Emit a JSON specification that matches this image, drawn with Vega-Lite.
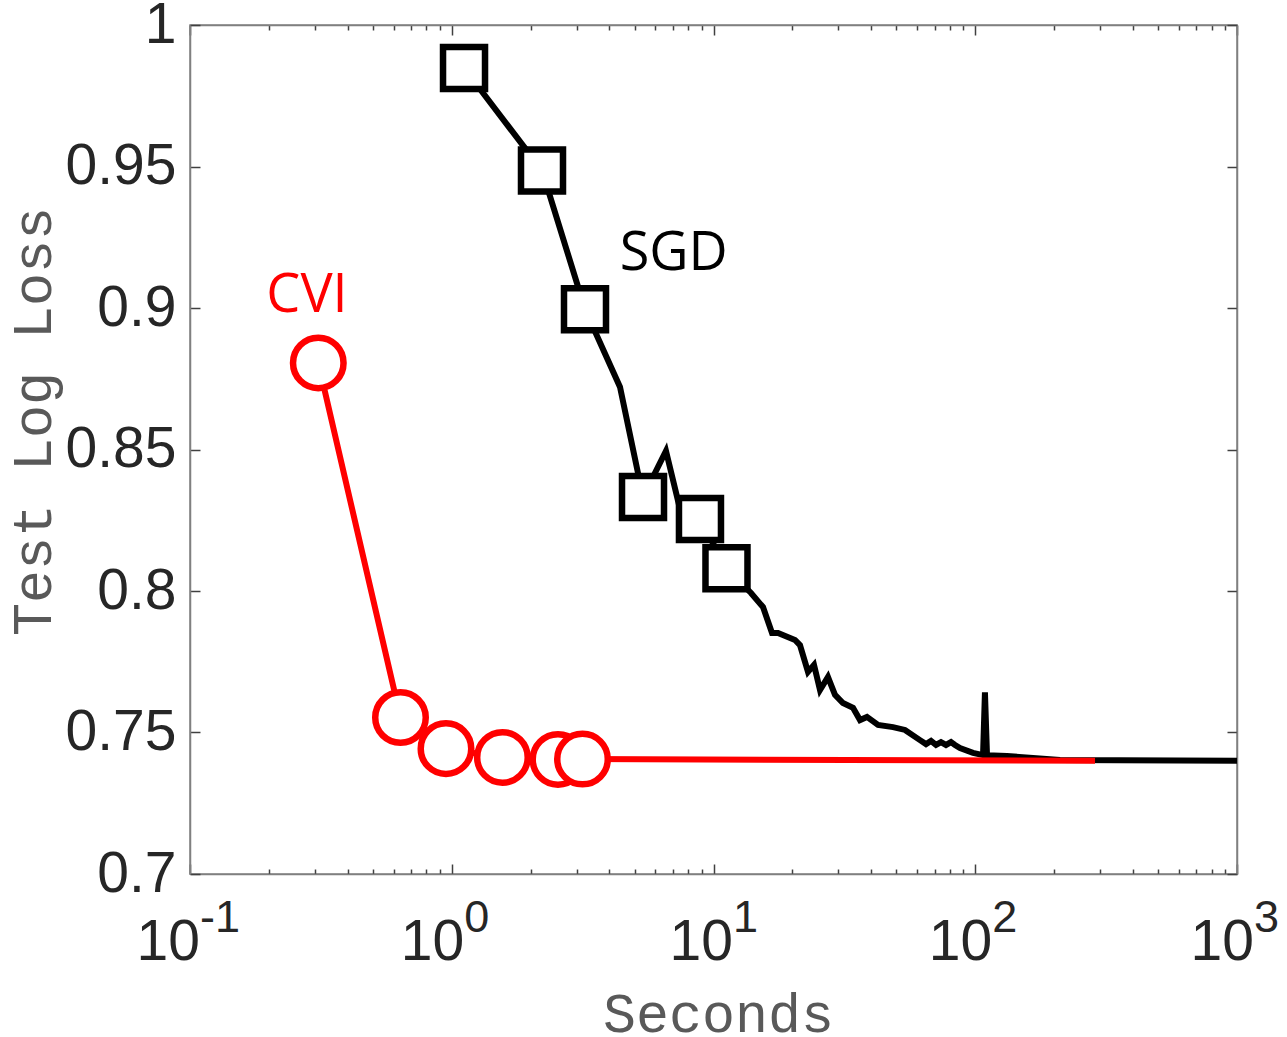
{
  "$schema": "https://vega.github.io/schema/vega-lite/v6.json",
  "width": 1047,
  "height": 849,
  "autosize": {"type": "none"},
  "padding": {"left": 190, "top": 25, "right": 50, "bottom": 163},
  "background": "white",
  "config": {"view": {"stroke": "#808080", "strokeWidth": 1.5}, "axis": {"grid": false}},
  "datasets": {
    "sgd": [
      {"t": 1.114, "loss": 0.9848}, {"t": 2.212, "loss": 0.9486}, {"t": 3.229, "loss": 0.8996},
      {"t": 4.393, "loss": 0.8721}, {"t": 5.379, "loss": 0.8332}, {"t": 6.583, "loss": 0.8495},
      {"t": 7.383, "loss": 0.8304}, {"t": 8.878, "loss": 0.8254}, {"t": 11.21, "loss": 0.808},
      {"t": 13.91, "loss": 0.7993}, {"t": 15.46, "loss": 0.7943}, {"t": 16.73, "loss": 0.7852},
      {"t": 17.64, "loss": 0.7852}, {"t": 20.48, "loss": 0.7827}, {"t": 21.4, "loss": 0.7809},
      {"t": 22.96, "loss": 0.7714}, {"t": 24.21, "loss": 0.7739}, {"t": 25.52, "loss": 0.765},
      {"t": 27.37, "loss": 0.7696}, {"t": 29.12, "loss": 0.7633}, {"t": 31.23, "loss": 0.7604},
      {"t": 34.12, "loss": 0.7587}, {"t": 36.28, "loss": 0.7544}, {"t": 38.58, "loss": 0.7555},
      {"t": 42.52, "loss": 0.7527}, {"t": 48.51, "loss": 0.7519}, {"t": 53.9, "loss": 0.7509},
      {"t": 61.5, "loss": 0.7473}, {"t": 64.85, "loss": 0.7459}, {"t": 67.76, "loss": 0.747},
      {"t": 70.8, "loss": 0.7456}, {"t": 73.98, "loss": 0.7466}, {"t": 77.31, "loss": 0.7456},
      {"t": 80.8, "loss": 0.7466}, {"t": 83.68, "loss": 0.7456}, {"t": 87.44, "loss": 0.7445},
      {"t": 98.04, "loss": 0.7428}, {"t": 107.1, "loss": 0.742}, {"t": 108.9, "loss": 0.7642},
      {"t": 110.9, "loss": 0.742}, {"t": 132.2, "loss": 0.7417}, {"t": 166.2, "loss": 0.741},
      {"t": 210.8, "loss": 0.7403}, {"t": 1000, "loss": 0.74}
    ],
    "sgdm": [
      {"t": 1.114, "loss": 0.9848}, {"t": 2.212, "loss": 0.9486}, {"t": 3.229, "loss": 0.8996},
      {"t": 5.379, "loss": 0.8332}, {"t": 8.878, "loss": 0.8254}, {"t": 11.21, "loss": 0.808}
    ],
    "cvi": [
      {"t": 0.3091, "loss": 0.8806}, {"t": 0.637, "loss": 0.7553}, {"t": 0.9506, "loss": 0.7443},
      {"t": 1.562, "loss": 0.7412}, {"t": 2.546, "loss": 0.7405}, {"t": 3.159, "loss": 0.7406},
      {"t": 286.8, "loss": 0.74}
    ],
    "cvim": [
      {"t": 0.3091, "loss": 0.8806}, {"t": 0.637, "loss": 0.7553}, {"t": 0.9506, "loss": 0.7443},
      {"t": 1.562, "loss": 0.7412}, {"t": 2.546, "loss": 0.7405}, {"t": 3.159, "loss": 0.7406}
    ],
    "names": [
      {"name": "SGD", "t": 7.05, "loss": 0.9134},
      {"name": "CVI", "t": 0.2799, "loss": 0.8987}
    ],
    "ticks": [
      {"v": 0.1, "e": "-1"}, {"v": 1, "e": "0"}, {"v": 10, "e": "1"}, {"v": 100, "e": "2"}, {"v": 1000, "e": "3"}
    ]
  },
  "layer": [
    {
      "data": {"name": "sgd"},
      "mark": {"type": "line", "color": "black", "strokeWidth": 6},
      "encoding": {
        "x": {
          "field": "t", "type": "quantitative",
          "scale": {"type": "log", "domain": [0.1, 1000], "nice": false},
          "axis": {
            "orient": "bottom",
            "values": [0.1,0.2,0.3,0.4,0.5,0.6,0.7,0.8,0.9,1,2,3,4,5,6,7,8,9,10,20,30,40,50,60,70,80,90,100,200,300,400,500,600,700,800,900,1000],
            "labels": false,
            "tickSize": {"condition": {"test": "abs(log(datum.value)/LN10 - round(log(datum.value)/LN10)) < 0.001", "value": -10}, "value": -5},
            "tickColor": "#404040", "tickWidth": 1.5,
            "domainColor": "#808080", "domainWidth": 1.5,
            "title": "Seconds", "titleFont": "Liberation Mono", "titleFontSize": 55, "titleFontWeight": "normal",
            "titleColor": "#595959", "titleX": 528, "titleY": 157, "titleBaseline": "alphabetic", "titleAlign": "center"
          }
        },
        "y": {
          "field": "loss", "type": "quantitative",
          "scale": {"domain": [0.7, 1], "nice": false, "zero": false},
          "axis": {
            "orient": "left",
            "values": [0.7, 0.75, 0.8, 0.85, 0.9, 0.95, 1],
            "format": ".2~f",
            "labelFont": "Liberation Sans", "labelFontSize": 57, "labelColor": "#262626", "labelPadding": 24,
            "tickSize": -10, "tickColor": "#404040", "tickWidth": 1.5,
            "domainColor": "#808080", "domainWidth": 1.5,
            "title": "Test Log Loss", "titleFont": "Liberation Mono", "titleFontSize": 55, "titleFontWeight": "normal",
            "titleColor": "#595959", "titleAngle": -90, "titleX": -140, "titleY": 396, "titleBaseline": "alphabetic", "titleAlign": "center"
          }
        }
      }
    },
    {
      "data": {"name": "sgdm"},
      "mark": {"type": "point", "shape": "square", "size": 1764, "filled": true, "fill": "white", "stroke": "black", "strokeWidth": 6.5, "opacity": 1},
      "encoding": {
        "x": {"field": "t", "type": "quantitative", "scale": {"type": "log", "domain": [0.1, 1000], "nice": false}, "axis": null},
        "y": {"field": "loss", "type": "quantitative", "scale": {"domain": [0.7, 1], "nice": false, "zero": false}, "axis": null}
      }
    },
    {
      "data": {"name": "cvi"},
      "mark": {"type": "line", "color": "#ff0000", "strokeWidth": 6},
      "encoding": {
        "x": {
          "field": "t", "type": "quantitative",
          "scale": {"type": "log", "domain": [0.1, 1000], "nice": false},
          "axis": {
            "orient": "top",
            "values": [0.1,0.2,0.3,0.4,0.5,0.6,0.7,0.8,0.9,1,2,3,4,5,6,7,8,9,10,20,30,40,50,60,70,80,90,100,200,300,400,500,600,700,800,900,1000],
            "labels": false, "title": null,
            "tickSize": {"condition": {"test": "abs(log(datum.value)/LN10 - round(log(datum.value)/LN10)) < 0.001", "value": -10}, "value": -5},
            "tickColor": "#404040", "tickWidth": 1.5,
            "domainColor": "#808080", "domainWidth": 1.5
          }
        },
        "y": {
          "field": "loss", "type": "quantitative",
          "scale": {"domain": [0.7, 1], "nice": false, "zero": false},
          "axis": {
            "orient": "right",
            "values": [0.7, 0.75, 0.8, 0.85, 0.9, 0.95, 1],
            "labels": false, "title": null,
            "tickSize": -10, "tickColor": "#404040", "tickWidth": 1.5,
            "domainColor": "#808080", "domainWidth": 1.5
          }
        }
      }
    },
    {
      "data": {"name": "cvim"},
      "mark": {"type": "point", "shape": "circle", "size": 2552, "filled": true, "fill": "white", "stroke": "#ff0000", "strokeWidth": 6.5, "opacity": 1},
      "encoding": {
        "x": {"field": "t", "type": "quantitative", "scale": {"type": "log", "domain": [0.1, 1000], "nice": false}, "axis": null},
        "y": {"field": "loss", "type": "quantitative", "scale": {"domain": [0.7, 1], "nice": false, "zero": false}, "axis": null}
      }
    },
    {
      "data": {"name": "names"},
      "mark": {"type": "text", "font": "Open Sans", "fontSize": 54, "baseline": "alphabetic", "align": "center"},
      "encoding": {
        "x": {"field": "t", "type": "quantitative", "scale": {"type": "log", "domain": [0.1, 1000], "nice": false}, "axis": null},
        "y": {"field": "loss", "type": "quantitative", "scale": {"domain": [0.7, 1], "nice": false, "zero": false}, "axis": null},
        "text": {"field": "name"},
        "color": {"field": "name", "type": "nominal", "scale": {"domain": ["CVI", "SGD"], "range": ["#ff0000", "#000000"]}, "legend": null}
      }
    },
    {
      "data": {"name": "ticks"},
      "mark": {"type": "text", "text": "10", "font": "Liberation Sans", "fontSize": 57, "color": "#262626", "align": "right", "baseline": "alphabetic", "dy": 86,
        "dx": {"expr": "datum.e == '-1' ? 10 : datum.e == '0' ? 12.5 : datum.e == '1' ? 19.5 : 17"}},
      "encoding": {
        "x": {"field": "v", "type": "quantitative", "scale": {"type": "log", "domain": [0.1, 1000], "nice": false}, "axis": null},
        "y": {"datum": 0.7, "type": "quantitative", "scale": {"domain": [0.7, 1], "nice": false, "zero": false}, "axis": null}
      }
    },
    {
      "data": {"name": "ticks"},
      "mark": {"type": "text", "font": "Liberation Sans", "fontSize": 45, "color": "#262626", "align": "left", "baseline": "alphabetic", "dy": 58,
        "dx": {"expr": "datum.e == '-1' ? 10 : datum.e == '0' ? 12.5 : datum.e == '1' ? 19.5 : 17"}},
      "encoding": {
        "x": {"field": "v", "type": "quantitative", "scale": {"type": "log", "domain": [0.1, 1000], "nice": false}, "axis": null},
        "y": {"datum": 0.7, "type": "quantitative", "scale": {"domain": [0.7, 1], "nice": false, "zero": false}, "axis": null},
        "text": {"field": "e"}
      }
    }
  ],
  "resolve": {"scale": {"x": "independent", "y": "independent"}}
}
